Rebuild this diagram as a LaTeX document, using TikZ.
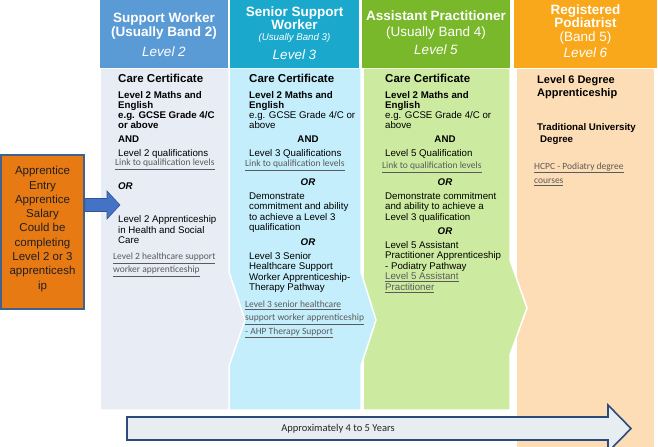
\documentclass[tikz,border=0pt]{standalone}
\usepackage{fontspec}
\setmainfont{Liberation Sans}
\newfontfamily\calfont{Carlito}
\definecolor{hA}{HTML}{5B9BD5}
\definecolor{hB}{HTML}{1AA8CD}
\definecolor{hC}{HTML}{78B82A}
\definecolor{hD}{HTML}{F9A81B}
\definecolor{bA}{HTML}{E8ECF4}
\definecolor{bB}{HTML}{C4EEFB}
\definecolor{bC}{HTML}{CDEBA0}
\definecolor{bD}{HTML}{FDDDB6}
\definecolor{obox}{HTML}{E87A14}
\definecolor{oboxd}{HTML}{41618F}
\definecolor{barrow}{HTML}{4472C4}
\definecolor{barrowd}{HTML}{2F5597}
\definecolor{lnk}{HTML}{5A5A5A}
\definecolor{barfill}{HTML}{E7EDF1}
\definecolor{bardraw}{HTML}{2C4A7A}
\newcommand\txl[5]{\node[#4] (#1) at (#2,#3) {#5};}
\begin{document}
\begin{tikzpicture}[x=1bp,y=-1bp,
  bx/.style={anchor=base west,inner sep=0,font=\fontsize{9.7bp}{11bp}\selectfont\bfseries},
  rx/.style={anchor=base west,inner sep=0,font=\fontsize{9.7bp}{11bp}\selectfont},
  bcx/.style={anchor=base,inner sep=0,font=\fontsize{9.7bp}{11bp}\selectfont\bfseries},
  bicx/.style={anchor=base,inner sep=0,font=\fontsize{9.7bp}{11bp}\selectfont\bfseries\itshape},
  bix/.style={anchor=base west,inner sep=0,font=\fontsize{9.7bp}{11bp}\selectfont\bfseries\itshape},
  lkx/.style={anchor=base west,inner sep=0,font=\fontsize{9.5bp}{11bp}\calfont,text=lnk},
  rlx/.style={anchor=base west,inner sep=0,font=\fontsize{9.7bp}{11bp}\selectfont,text=lnk},
  ccx/.style={anchor=base west,inner sep=0,font=\fontsize{11.5bp}{13bp}\selectfont\bfseries},
  dbx/.style={anchor=base west,inner sep=0,font=\fontsize{11bp}{13bp}\selectfont\bfseries},
  hbx/.style={anchor=base,inner sep=0,text=white,font=\fontsize{13.5bp}{15bp}\selectfont\bfseries},
  hrx/.style={anchor=base,inner sep=0,text=white,font=\fontsize{13.5bp}{15bp}\selectfont},
  hix/.style={anchor=base,inner sep=0,text=white,font=\fontsize{13.5bp}{15bp}\selectfont\itshape},
  hsx/.style={anchor=base,inner sep=0,text=white,font=\fontsize{9.7bp}{11bp}\selectfont\itshape},
  colbody/.style={draw=white,line width=1.5bp},
  hdr/.style={inner sep=0,anchor=north west}
]
\useasboundingbox (0,0) rectangle (658,447);
\fill[white] (0,0) rectangle (658,447);
% column bodies
\path[colbody,fill=bD] (516,68) rectangle (655,450);
\path[colbody,fill=bC] (363,68) -- (510,68) -- (510,260) -- (527,308) -- (510,355) -- (510,410) -- (363,410) -- cycle;
\path[colbody,fill=bB] (229,68) -- (361,68) -- (361,272) -- (376,320) -- (361,366) -- (361,410) -- (229,410) -- cycle;
\path[colbody,fill=bA] (100,68) -- (229,68) -- (229,272) -- (245,320) -- (229,366) -- (229,410) -- (100,410) -- cycle;
% headers
\node[hdr,fill=hA,minimum width=128bp,minimum height=68bp] (hdA) at (100,0) {};
\node[hdr,fill=hB,minimum width=129bp,minimum height=68bp] (hdB) at (230,0) {};
\node[hdr,fill=hC,minimum width=148bp,minimum height=68bp] (hdC) at (362,0) {};
\node[hdr,fill=hD,minimum width=143bp,minimum height=68bp] (hdD) at (514,0) {};
\txl{hA1}{164}{23}{hbx}{Support Worker}
\txl{hA2}{164}{37}{hbx}{(Usually Band 2)}
\txl{hA3}{164}{57}{hix}{Level 2}
\txl{hB1}{294.5}{17}{hbx}{Senior Support}
\txl{hB2}{294.5}{30}{hbx}{Worker}
\txl{hB3}{294.5}{40.5}{hsx}{(Usually Band 3)}
\txl{hB4}{294.5}{60}{hix}{Level 3}
\txl{hC1}{436}{21}{hbx}{Assistant Practitioner}
\txl{hC2}{436}{37}{hrx}{(Usually Band 4)}
\txl{hC3}{436}{55}{hix}{Level 5}
\txl{hD1}{585.5}{15}{hbx}{Registered}
\txl{hD2}{585.5}{28}{hbx}{Podiatrist}
\txl{hD3}{585.5}{42}{hrx}{(Band 5)}
\txl{hD4}{585.5}{58}{hix}{Level 6}
% column 1
\txl{a1}{118}{83}{ccx}{Care Certificate}
\txl{a2}{118}{98.5}{bx}{Level 2 Maths and}
\txl{a3}{118}{108.5}{bx}{English}
\txl{a4}{118}{118.5}{bx}{e.g. GCSE Grade 4/C}
\txl{a5}{118}{128.5}{bx}{or above}
\txl{a6}{118}{142.5}{bx}{AND}
\txl{a7}{118}{156.5}{rx}{Level 2 qualifications}
\txl{a8}{115}{166}{lkx}{\underline{Link to qualification levels}}
\txl{a9}{118}{190}{bix}{OR}
\txl{a10}{118}{223}{rx}{Level 2 Apprenticeship}
\txl{a11}{118}{233.5}{rx}{in Health and Social}
\txl{a12}{118}{244}{rx}{Care}
\txl{a13}{113}{260}{lkx}{\underline{Level 2 healthcare support}}
\txl{a14}{113}{273}{lkx}{\underline{worker apprenticeship}}
% column 2
\txl{b1}{249}{83}{ccx}{Care Certificate}
\txl{b2}{249}{98.5}{bx}{Level 2 Maths and}
\txl{b3}{249}{108.5}{bx}{English}
\txl{b4}{249}{118.5}{rx}{e.g. GCSE Grade 4/C or}
\txl{b5}{249}{128.5}{rx}{above}
\txl{b6}{308}{143}{bcx}{AND}
\txl{b7}{249}{157}{rx}{Level 3 Qualifications}
\txl{b8}{245}{167}{lkx}{\underline{Link to qualification levels}}
\txl{b9}{308}{185.5}{bicx}{OR}
\txl{b10}{249}{199.5}{rx}{Demonstrate}
\txl{b11}{249}{210}{rx}{commitment and ability}
\txl{b12}{249}{220.5}{rx}{to achieve a Level 3}
\txl{b13}{249}{231}{rx}{qualification}
\txl{b14}{308}{245.5}{bicx}{OR}
\txl{b15}{249}{259.5}{rx}{Level 3 Senior}
\txl{b16}{249}{270}{rx}{Healthcare Support}
\txl{b17}{249}{280.5}{rx}{Worker Apprenticeship-}
\txl{b18}{249}{291}{rx}{Therapy Pathway}
\txl{b19}{245}{308}{lkx}{\underline{Level 3 senior healthcare}}
\txl{b20}{245}{321}{lkx}{\underline{support worker apprenticeship}}
\txl{b21}{245}{334}{lkx}{\underline{- AHP Therapy Support}}
% column 3
\txl{c1}{385}{83}{ccx}{Care Certificate}
\txl{c2}{385}{98.5}{bx}{Level 2 Maths and}
\txl{c3}{385}{108.5}{bx}{English}
\txl{c4}{385}{118.5}{rx}{e.g. GCSE Grade 4/C or}
\txl{c5}{385}{128.5}{rx}{above}
\txl{c6}{445}{143}{bcx}{AND}
\txl{c7}{385}{157}{rx}{Level 5 Qualification}
\txl{c8}{382}{169}{lkx}{\underline{Link to qualification levels}}
\txl{c9}{445}{185.5}{bicx}{OR}
\txl{c10}{385}{199.5}{rx}{Demonstrate commitment}
\txl{c11}{385}{210}{rx}{and ability to achieve a}
\txl{c12}{385}{220.5}{rx}{Level 3 qualification}
\txl{c13}{445}{234.5}{bicx}{OR}
\txl{c14}{385}{248.5}{rx}{Level 5 Assistant}
\txl{c15}{385}{259}{rx}{Practitioner Apprenticeship}
\txl{c16}{385}{269.5}{rx}{- Podiatry Pathway}
\txl{c17}{385}{280}{rlx}{\underline{Level 5 Assistant}}
\txl{c18}{385}{290.5}{rlx}{\underline{Practitioner}}
% column 4
\txl{d1}{537}{84}{dbx}{Level 6 Degree}
\txl{d2}{537}{96.5}{dbx}{Apprenticeship}
\txl{d3}{537}{130.5}{bx}{Traditional University}
\txl{d4}{540}{142.5}{bx}{Degree}
\txl{d5}{534}{169.5}{lkx}{\underline{HCPC - Podiatry degree}}
\txl{d6}{534}{183.5}{lkx}{\underline{courses}}
% left orange box
\node[draw=oboxd,fill=obox,line width=1.5bp,minimum width=83bp,minimum height=154bp,inner sep=0] (appbox) at (42.5,232) {};
\node[align=center,inner sep=0,text=black!88,font=\fontsize{11.5bp}{14.3bp}\selectfont] (apptext) at (42.5,229)
 {Apprentice\\Entry\\Apprentice\\Salary\\Could be\\completing\\Level 2 or 3\\apprenticesh\\ip};
% blue arrow
\coordinate (bt) at (120,205);
\path[fill=barrow,draw=barrowd,line width=0.6bp] (appbox.east |- 0,198.5) -- (107,198.5) -- (107,191) -- (bt) -- (107,219) -- (107,211.5) -- (appbox.east |- 0,211.5) -- cycle;
% bottom arrow
\path[fill=barfill,draw=bardraw,line width=1.6bp,line join=miter] (127,417) -- (608,417) -- (608,405) -- (631,428.5) -- (608,452) -- (608,440) -- (127,440) -- cycle;
\node[inner sep=0,font=\fontsize{10.5bp}{12bp}\calfont,text=black!85] (years) at (338,428.5) {Approximately 4 to 5 Years};
\end{tikzpicture}
\end{document}
